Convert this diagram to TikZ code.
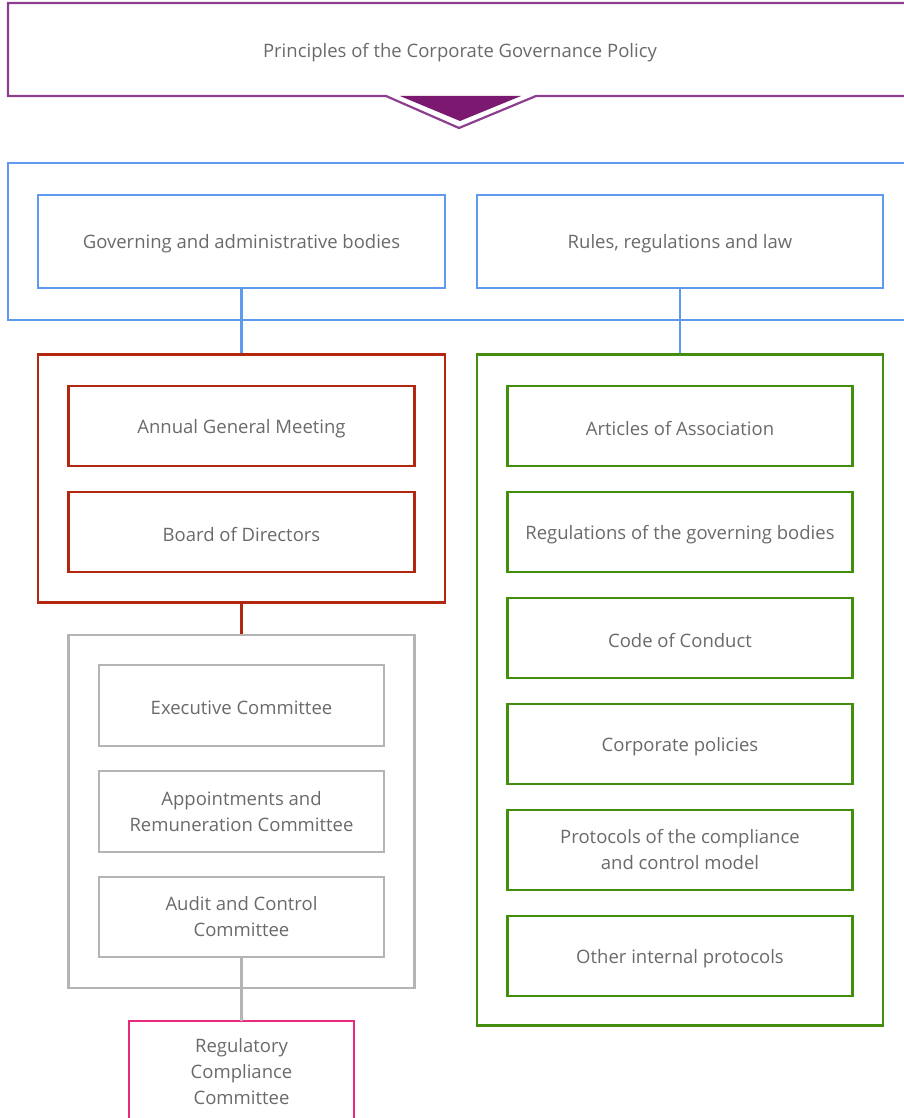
\documentclass[tikz,border=0pt]{standalone}
\usepackage{fontspec}
\setmainfont{Open Sans}
\begin{document}
\begin{tikzpicture}[x=1pt,y=-1pt,
  every node/.style={font=\fontsize{18.5}{26}\selectfont, text=txtgray, align=center},
  one/.style={text height=19pt},
  frame/.style={line width=2.2pt},
  box/.style={frame, draw, minimum width=#1, minimum height=80pt, inner sep=0pt},
  conn/.style={line width=2.2pt}]
\definecolor{txtgray}{HTML}{6A6A6A}
\definecolor{purp}{HTML}{8E3E8E}
\definecolor{purpfill}{HTML}{7B1870}
\definecolor{bl}{HTML}{5E9BF0}
\definecolor{rd}{HTML}{B3260F}
\definecolor{gr}{HTML}{438E0E}
\definecolor{gy}{HTML}{B4B4B4}
\definecolor{pk}{HTML}{EB2A7C}
\useasboundingbox (0,0) rectangle (904,1118);
% top purple band with notch
\draw[frame, purp] (920,3) -- (8,3) -- (8,96) -- (386,96) -- (459,128) -- (536,96) -- (920,96);
\fill[purpfill] (400,96) -- (521,96) -- (460,121) -- cycle;
\node[one] (princ) at (460,50) {Principles of the Corporate Governance Policy};
% blue outer
\draw[frame, bl] (920,163) -- (8,163) -- (8,320) -- (920,320);
\node[box=407pt, one, minimum height=93pt, draw=bl] (gov) at (241.5,241.5) {Governing and administrative bodies};
\node[box=406pt, one, minimum height=93pt, draw=bl] (rules) at (680,241.5) {Rules, regulations and law};
% red group
\node[frame, draw=rd, minimum width=407pt, minimum height=248pt, inner sep=0pt] (redg) at (241.5,478.5) {};
\node[box=346pt, one, draw=rd] (agm) at (241.5,426) {Annual General Meeting};
\node[box=346pt, one, draw=rd] (bod) at (241.5,532) {Board of Directors};
% gray group
\node[frame, draw=gy, minimum width=346pt, minimum height=353pt, inner sep=0pt] (grayg) at (241.5,811.5) {};
\node[box=285pt, one, draw=gy, minimum height=81pt] (exec) at (241.5,705.5) {Executive Committee};
\node[box=285pt, draw=gy, minimum height=81pt] (appt) at (241.5,811.5) {Appointments and\\Remuneration Committee};
\node[box=285pt, draw=gy] (audit) at (241.5,917) {Audit and Control\\Committee};
% pink
\draw[frame, pk] (129,1130) -- (129,1021) -- (354,1021) -- (354,1130);
\node (reg) at (241.5,1072) {Regulatory\\Compliance\\Committee};
% green group
\node[frame, draw=gr, minimum width=406pt, minimum height=671pt, inner sep=0pt] (greeng) at (680,690) {};
\node[box=345pt, one, draw=gr] (art) at (680,426) {Articles of Association};
\node[box=345pt, one, draw=gr] (regs) at (680,532) {Regulations of the governing bodies};
\node[box=345pt, one, draw=gr] (code) at (680,638) {Code of Conduct};
\node[box=345pt, one, draw=gr] (corp) at (680,744) {Corporate policies};
\node[box=345pt, draw=gr] (prot) at (680,850) {Protocols of the compliance\\and control model};
\node[box=345pt, one, draw=gr] (other) at (680,956) {Other internal protocols};
% connectors
\coordinate (pktop) at (241.5,1021);
\draw[conn, bl] (gov.south) -- (redg.north);
\draw[conn, bl] (rules.south) -- (greeng.north);
\draw[conn, rd] (redg.south) -- (grayg.north);
\draw[conn, gy] (audit.south) -- (pktop);
\end{tikzpicture}
\end{document}
